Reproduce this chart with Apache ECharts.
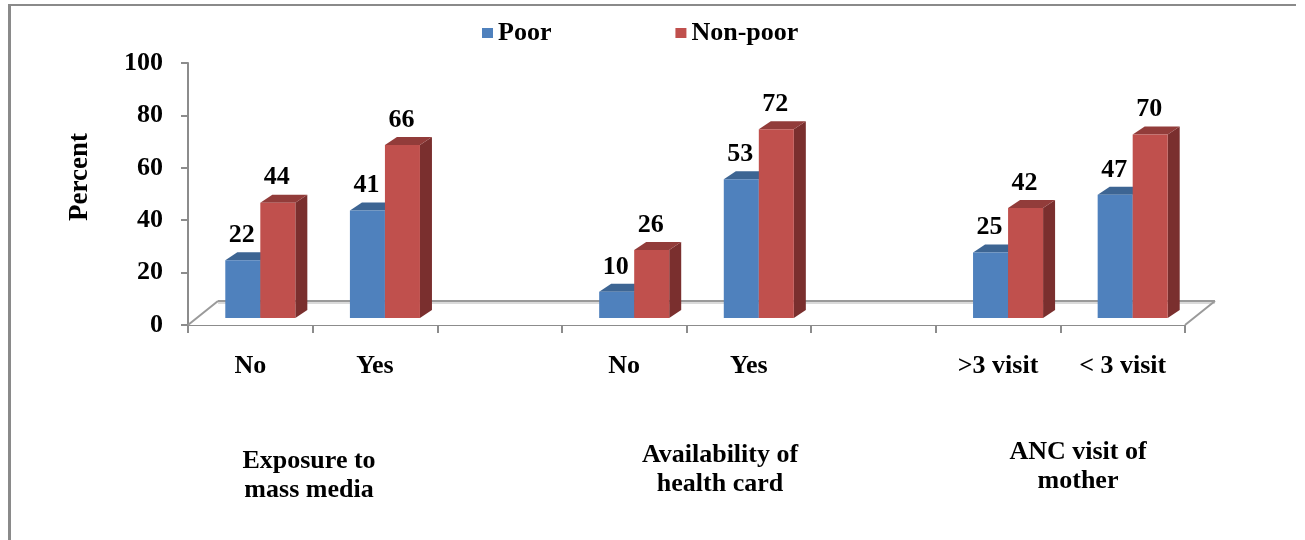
<!DOCTYPE html>
<html>
<head>
<meta charset="utf-8">
<style>
  html, body { margin: 0; padding: 0; background: #ffffff; }
  #chart { width: 1305px; height: 540px; }
</style>
<script src="https://cdn.jsdelivr.net/npm/echarts@6/dist/echarts.min.js"></script>
</head>
<body>
<div id="chart"></div>
<script>
// Categories along the x axis; blank slots separate the three groups
const categories = ['No', 'Yes', '', 'No', 'Yes', '', '>3 visit', '< 3 visit'];
// Percent of children, by household wealth
const poor    = [22, 41, null, 10, 53, null, 25, 47];
const nonPoor = [44, 66, null, 26, 72, null, 42, 70];
// Group captions printed under each pair of categories
const groupLabels = ['Exposure to\nmass media', 'Availability of\nhealth card', 'ANC visit of\nmother'];
const groupLabelPos = [[309, 476], [720, 470], [1078, 467]];
// Value axis ticks
const yMin = 0, yMax = 100, yStep = 20;

const FONT = '"Liberation Serif", "Times New Roman", serif';
const AXIS_GREY = '#8c8c8c';

// pseudo-3D geometry (pixels)
const DEPTH_X = 12, DEPTH_Y = -8;      // bar top/side depth
const BAR_SHIFT_X = 10, BAR_SHIFT_Y = -7;  // bars sit part-way into the floor
const FLOOR_DX = 30, FLOOR_DY = -24;   // floor depth

const palette = {
  poor:    { front: '#4f81bd', top: '#3d6593', side: '#325278' },
  nonPoor: { front: '#c0504d', top: '#923c3a', side: '#7a2f2e' }
};

function toPairs(arr) {
  const out = [];
  arr.forEach((v, i) => { if (v != null) out.push([i, v]); });
  return out;
}

function makeBarRenderer(side, colors) {
  return function (params, api) {
    const cat = api.value(0), v = api.value(1);
    const base = api.coord([cat, 0]);
    const top = api.coord([cat, v]);
    const band = api.size([1, 0])[0];
    const w = band * 0.281;
    const cx = base[0] + BAR_SHIFT_X;
    const x0 = side === 0 ? cx - w : cx;
    const x1 = x0 + w;
    const yb = base[1] + BAR_SHIFT_Y;
    const yt = top[1] + BAR_SHIFT_Y;
    return {
      type: 'group',
      children: [
        { type: 'polygon', shape: { points: [[x1, yt], [x1 + DEPTH_X, yt + DEPTH_Y], [x1 + DEPTH_X, yb + DEPTH_Y], [x1, yb]] },
          style: { fill: colors.side } },
        { type: 'polygon', shape: { points: [[x0, yt], [x0 + DEPTH_X, yt + DEPTH_Y], [x1 + DEPTH_X, yt + DEPTH_Y], [x1, yt]] },
          style: { fill: colors.top } },
        { type: 'rect', shape: { x: x0, y: yt, width: w, height: yb - yt },
          style: { fill: colors.front } },
        { type: 'text', style: { text: String(v), x: (x0 + x1) / 2 - 1, y: yt - 25,
          align: 'center', verticalAlign: 'middle', fontSize: 26, fontWeight: 'bold',
          fontFamily: FONT, fill: '#000' } }
      ]
    };
  };
}

// floor parallelogram spanning all categories
function renderFloor(params, api) {
  const band = api.size([1, 0])[0];
  const first = api.coord([0, 0]);
  const last = api.coord([categories.length - 1, 0]);
  const xl = first[0] - band / 2, xr = last[0] + band / 2, y = first[1];
  return {
    type: 'group',
    children: [
      { type: 'polygon', shape: { points: [[xl, y], [xl + FLOOR_DX, y + FLOOR_DY], [xr + FLOOR_DX, y + FLOOR_DY], [xr, y]] },
        style: { fill: '#ffffff', stroke: null } },
      { type: 'line', shape: { x1: xl + FLOOR_DX, y1: y + FLOOR_DY + 2, x2: xr + FLOOR_DX, y2: y + FLOOR_DY + 2 },
        style: { stroke: '#dadada', lineWidth: 2 } },
      { type: 'line', shape: { x1: xl + FLOOR_DX, y1: y + FLOOR_DY, x2: xr + FLOOR_DX, y2: y + FLOOR_DY },
        style: { stroke: '#9a9a9a', lineWidth: 2 } },
      { type: 'line', shape: { x1: xl, y1: y, x2: xl + FLOOR_DX, y2: y + FLOOR_DY },
        style: { stroke: '#9a9a9a', lineWidth: 2 } },
      { type: 'line', shape: { x1: xr, y1: y, x2: xr + FLOOR_DX, y2: y + FLOOR_DY },
        style: { stroke: '#9a9a9a', lineWidth: 2 } }
    ]
  };
}

const chart = echarts.init(document.getElementById('chart'), null, { renderer: 'canvas' });

const graphics = [
  // frame edges
  { type: 'rect', shape: { x: 8, y: 4, width: 3, height: 540 }, style: { fill: '#8a8a8a' }, silent: true },
  { type: 'rect', shape: { x: 8, y: 4, width: 1288, height: 2 }, style: { fill: '#8a8a8a' }, silent: true },
  // value axis title
  { type: 'text', x: 80, y: 177, rotation: Math.PI / 2,
    style: { text: 'Percent', align: 'center', verticalAlign: 'middle', fontSize: 27, fontWeight: 'bold', fontFamily: FONT, fill: '#000' } }
];
groupLabels.forEach((t, i) => {
  graphics.push({ type: 'text', x: groupLabelPos[i][0], y: groupLabelPos[i][1],
    style: { text: t, align: 'center', verticalAlign: 'middle', fontSize: 26, fontWeight: 'bold',
      fontFamily: FONT, lineHeight: 29, fill: '#000' } });
});

chart.setOption({
  animation: false,
  backgroundColor: '#ffffff',
  legend: {
    data: ['Poor', 'Non-poor'],
    left: 482, top: 20, padding: 0,
    itemWidth: 11, itemHeight: 10, itemGap: 124,
    icon: 'rect',
    textStyle: { fontSize: 26, fontWeight: 'bold', fontFamily: FONT, color: '#000' }
  },
  grid: { left: 188, right: 120, top: 63, bottom: 215, containLabel: false, outerBoundsMode: 'none' },
  xAxis: {
    type: 'category',
    data: categories,
    boundaryGap: true,
    axisLine: { show: true, lineStyle: { color: AXIS_GREY, width: 2 } },
    axisTick: { show: true, interval: 0, length: 8, inside: false, alignWithLabel: false, lineStyle: { color: AXIS_GREY, width: 2 } },
    axisLabel: { interval: 0, margin: 28, fontSize: 26, fontWeight: 'bold', fontFamily: FONT, color: '#000' },
    splitLine: { show: false }
  },
  yAxis: {
    type: 'value',
    min: yMin, max: yMax, interval: yStep,
    axisLine: { show: true, lineStyle: { color: AXIS_GREY, width: 2 } },
    axisTick: { show: true, length: 7, inside: false, lineStyle: { color: AXIS_GREY, width: 2 } },
    axisLabel: { margin: 25, fontSize: 26, fontWeight: 'bold', fontFamily: FONT, color: '#000' },
    splitLine: { show: false }
  },
  graphic: graphics,
  series: [
    { type: 'custom', name: 'floor', data: [[0, 0]], renderItem: renderFloor, z: 1, silent: true, encode: { x: 0, y: 1 } },
    { type: 'custom', name: 'Poor', data: toPairs(poor), renderItem: makeBarRenderer(0, palette.poor),
      itemStyle: { color: palette.poor.front }, z: 2, encode: { x: 0, y: 1 } },
    { type: 'custom', name: 'Non-poor', data: toPairs(nonPoor), renderItem: makeBarRenderer(1, palette.nonPoor),
      itemStyle: { color: palette.nonPoor.front }, z: 3, encode: { x: 0, y: 1 } }
  ]
});
</script>
</body>
</html>
